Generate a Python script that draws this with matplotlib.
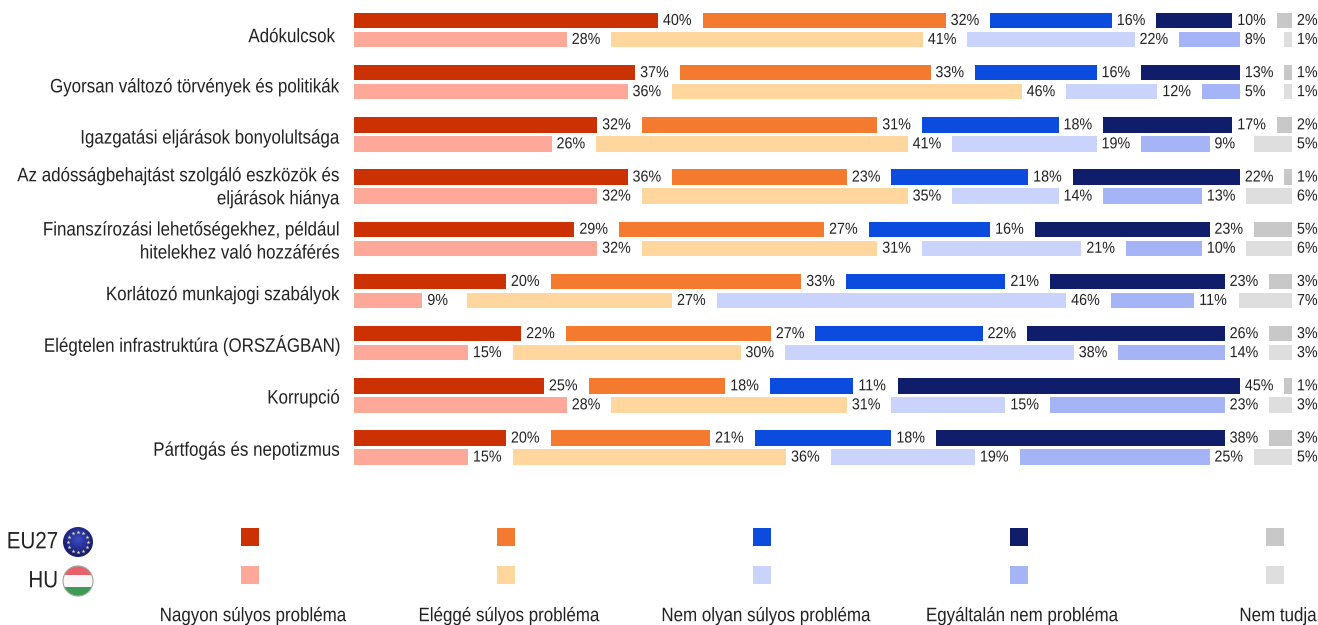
import numpy as np
import matplotlib
matplotlib.use("Agg")
import matplotlib.pyplot as plt
from matplotlib.patches import Circle, Rectangle
from matplotlib.patheffects import AbstractPathEffect
from matplotlib.transforms import Affine2D

plt.rcParams["font.family"] = ["Liberation Sans", "DejaVu Sans"]

categories = [
    "Adókulcsok ",
    "Gyorsan változó törvények és politikák",
    "Igazgatási eljárások bonyolultsága",
    "Az adósságbehajtást szolgáló eszközök és\neljárások hiánya",
    "Finanszírozási lehetőségekhez, például\nhitelekhez való hozzáférés",
    "Korlátozó munkajogi szabályok",
    "Elégtelen infrastruktúra (ORSZÁGBAN)",
    "Korrupció",
    "Pártfogás és nepotizmus",
]
answers = [
    "Nagyon súlyos probléma",
    "Eléggé súlyos probléma",
    "Nem olyan súlyos probléma",
    "Egyáltalán nem probléma",
    "Nem tudja",
]

eu27 = [
    [40, 32, 16, 10, 2],
    [37, 33, 16, 13, 1],
    [32, 31, 18, 17, 2],
    [36, 23, 18, 22, 1],
    [29, 27, 16, 23, 5],
    [20, 33, 21, 23, 3],
    [22, 27, 22, 26, 3],
    [25, 18, 11, 45, 1],
    [20, 21, 18, 38, 3],
]
hu = [
    [28, 41, 22, 8, 1],
    [36, 46, 12, 5, 1],
    [26, 41, 19, 9, 5],
    [32, 35, 14, 13, 6],
    [32, 31, 21, 10, 6],
    [9, 27, 46, 11, 7],
    [15, 30, 38, 14, 3],
    [28, 31, 15, 23, 3],
    [15, 36, 19, 25, 5],
]

eu_colors = ["#CC3104", "#F47A30", "#0B4CDF", "#101D6B", "#C8C8C8"]
hu_colors = ["#FEA899", "#FFD79E", "#C9D3FB", "#A5B4F7", "#DEDEDE"]

W, H = 1318, 625
PX_PER_PCT = 7.6
PX_PER_ROW = 52.2
GAP = 44.5 / PX_PER_PCT
TXT = "#222222"

# category labels do not sit on the row centre in the original
label_nudge = [7, 5, 4, 1, 3, 4, 2, 3, 3]


class Stretch(AbstractPathEffect):
    # the original font is taller than Liberation Sans at the same width
    def __init__(self, y0, sy):
        super().__init__()
        self.y0 = y0
        self.sy = sy

    def draw_path(self, renderer, gc, tpath, affine, rgbFace=None):
        tall = Affine2D().translate(0, -self.y0).scale(1, self.sy).translate(0, self.y0)
        renderer.draw_path(gc, tpath, affine + tall, rgbFace)


def tall_text(axis, x, y, s, sy=1.15, **kw):
    t = axis.text(x, y, s, color=TXT, va="center", **kw)
    y0 = axis.transData.transform((x, y))[1]
    t.set_path_effects([Stretch(y0, sy)])
    return t


fig = plt.figure(figsize=(W / 100, H / 100), dpi=100)

# bars: x in percent, y in rows
ax = fig.add_axes([0, 0, 1, 1])
ax.set_xlim(-354 / PX_PER_PCT, (W - 354) / PX_PER_PCT)
ax.set_ylim((H - 30) / PX_PER_ROW, -30 / PX_PER_ROW)
ax.axis("off")


def draw_row(y, values, colors):
    left = 0
    for v, c in zip(values, colors):
        ax.barh(y, v, left=left, height=15.5 / PX_PER_ROW, color=c)
        tall_text(ax, left + v + 0.65, y, f"{v}%", sy=1.11, ha="left", fontsize=10.3)
        left += v + GAP


for i, label in enumerate(categories):
    draw_row(i - 0.182, eu27[i], eu_colors)
    draw_row(i + 0.182, hu[i], hu_colors)
    tall_text(ax, -14 / PX_PER_PCT, i + label_nudge[i] / PX_PER_ROW, label,
              ha="right", fontsize=12.2, linespacing=1.42)

# legend and flags in pixel coordinates
lg = fig.add_axes([0, 0, 1, 1])
lg.set_xlim(0, W)
lg.set_ylim(H, 0)
lg.axis("off")
lg.patch.set_alpha(0)

swatch_x = [241, 497, 753, 1010, 1266]
label_x = [253, 509, 766, 1022, 1278]
for j in range(5):
    lg.add_patch(Rectangle((swatch_x[j], 528), 18, 18, color=eu_colors[j], lw=0))
    lg.add_patch(Rectangle((swatch_x[j], 566), 18, 18, color=hu_colors[j], lw=0))
    tall_text(lg, label_x[j], 616, answers[j], ha="center", fontsize=12.2)

tall_text(lg, 58, 542, "EU27", ha="right", fontsize=14.8)
tall_text(lg, 58, 581, "HU", ha="right", fontsize=14.8)

# EU flag
eu_clip = Circle((78, 542), 15, transform=lg.transData)
yy, xx = np.mgrid[-1:1:60j, -1:1:60j]
shade = np.clip(np.sqrt(xx**2 + (yy + 0.2)**2), 0, 1)
rgb = np.dstack([0.24 - 0.14 * shade, 0.30 - 0.18 * shade, 0.78 - 0.32 * shade])
im = lg.imshow(rgb, extent=(63, 93, 557, 527), zorder=3, aspect="auto")
im.set_clip_path(eu_clip)
a = np.linspace(0, 2 * np.pi, 12, endpoint=False)
lg.scatter(78 + 10 * np.cos(a), 542 + 10 * np.sin(a), s=9, marker="*", color="#DDDDA0", lw=0, zorder=4)

# HU flag
hu_clip = Circle((78, 581), 15, transform=lg.transData)
for top, h, c in [(566, 9, "#E8606A"), (575, 12, "#F8F8F8"), (587, 9, "#3E9A55")]:
    band = lg.add_patch(Rectangle((63, top), 30, h, color=c, lw=0, zorder=3))
    band.set_clip_path(hu_clip)
lg.add_patch(Circle((78, 581), 15, fill=False, ec="#9aa89a", lw=0.8, zorder=4))

lg.set_xlim(0, W)
lg.set_ylim(H, 0)

fig.savefig("out.png", dpi=100)
